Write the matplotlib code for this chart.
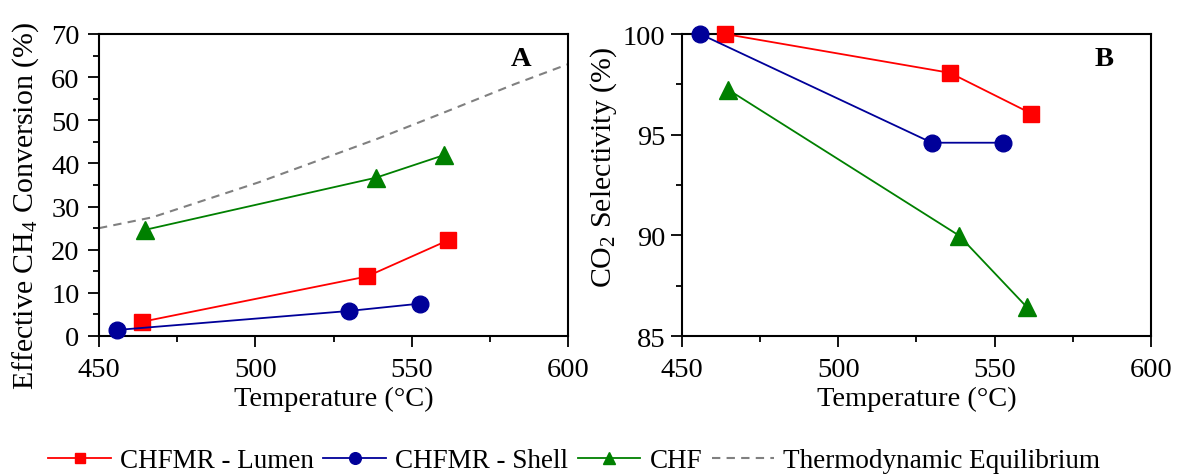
#!/usr/bin/env python3
"""Effective CH4 conversion and CO2 selectivity vs temperature (panels A, B)."""

import matplotlib
matplotlib.use("Agg")
import matplotlib.pyplot as plt
from matplotlib.ticker import MultipleLocator

# --- data ---
lumen_T = [463.8, 535.7, 561.7]
lumen_conv = [3.3, 13.8, 22.2]
lumen_sel = [100.0, 98.07, 96.05]

shell_T = [455.8, 529.9, 552.6]
shell_conv = [1.4, 5.8, 7.5]
shell_sel = [100.0, 94.6, 94.6]

chf_T = [464.7, 538.6, 560.2]
chf_conv = [24.6, 36.7, 41.9]
chf_sel = [97.24, 89.99, 86.45]

equil_T = [450, 467, 501, 539, 560, 583, 600]
equil_conv = [25.0, 27.5, 35.6, 45.7, 51.7, 58.4, 63.0]

RED = "#ff0000"
BLUE = "#000099"
GREEN = "#008000"
GREY = "#808080"

plt.rcParams["font.family"] = ["Liberation Serif", "DejaVu Serif"]
plt.rcParams["mathtext.fontset"] = "custom"
plt.rcParams["mathtext.rm"] = "Liberation Serif"
plt.rcParams["mathtext.it"] = "Liberation Serif:italic"

fig = plt.figure(figsize=(11.77, 4.77), dpi=100)
W, H = 1177, 477
axA = fig.add_axes([99 / W, (H - 337) / H, 469 / W, 302 / H])
axB = fig.add_axes([682 / W, (H - 337) / H, 469 / W, 302 / H])

lw = 1.3
ms = 11
FS = 20.5

axA.plot(lumen_T, lumen_conv, color=RED, marker="s", ms=ms, lw=lw,
         label="CHFMR - Lumen", clip_on=False, zorder=3)
axA.plot(shell_T, shell_conv, color=BLUE, marker="o", ms=ms + 1, lw=lw,
         label="CHFMR - Shell", clip_on=False, zorder=3)
axA.plot(chf_T, chf_conv, color=GREEN, marker="^", ms=ms + 2, lw=lw,
         label="CHF", clip_on=False, zorder=3)
axA.plot(equil_T, equil_conv, color=GREY, ls=(0, (4, 3)), lw=1.5,
         label="Thermodynamic Equilibrium")

axB.plot(lumen_T, lumen_sel, color=RED, marker="s", ms=ms, lw=lw, clip_on=False, zorder=3)
axB.plot(shell_T, shell_sel, color=BLUE, marker="o", ms=ms + 1, lw=lw, clip_on=False, zorder=3)
axB.plot(chf_T, chf_sel, color=GREEN, marker="^", ms=ms + 2, lw=lw, clip_on=False, zorder=3)

axA.set_xlim(450, 600)
axA.set_ylim(0, 70)
axA.yaxis.set_major_locator(MultipleLocator(10))
axA.yaxis.set_minor_locator(MultipleLocator(5))
axA.set_ylabel("Effective CH$_4$ Conversion (%)", fontsize=21.5)
axA.yaxis.set_label_coords(-0.124, 0.434)
axA.tick_params(axis="y", which="major", pad=6)

axB.set_xlim(450, 600)
axB.set_ylim(85, 100)
axB.yaxis.set_major_locator(MultipleLocator(5))
axB.yaxis.set_minor_locator(MultipleLocator(2.5))
axB.set_ylabel("CO$_2$ Selectivity (%)", fontsize=21.5)
axB.yaxis.set_label_coords(-0.134, 0.563)
axB.tick_params(axis="y", which="major", pad=4)

for ax, tag in ((axA, "A"), (axB, "B")):
    ax.xaxis.set_major_locator(MultipleLocator(50))
    ax.xaxis.set_minor_locator(MultipleLocator(25))
    ax.set_xlabel("Temperature (\u00b0C)", fontsize=FS, labelpad=3)
    ax.tick_params(which="major", direction="out", length=8, width=1.3,
                   labelsize=FS)
    ax.tick_params(axis="x", which="major", pad=7)
    ax.tick_params(which="minor", direction="out", length=4, width=1.3)
    for sp in ax.spines.values():
        sp.set_linewidth(1.5)
    ax.text(0.9, 0.92, tag, transform=ax.transAxes, fontsize=FS,
            fontweight="bold", ha="center", va="center")

fig.legend(loc="center", bbox_to_anchor=(0.488, 0.032), ncol=4, frameon=False,
           fontsize=19.5, handlelength=2.3, handletextpad=0.35, columnspacing=0.35,
           markerscale=0.7)

fig.savefig("out.png", dpi=100)
